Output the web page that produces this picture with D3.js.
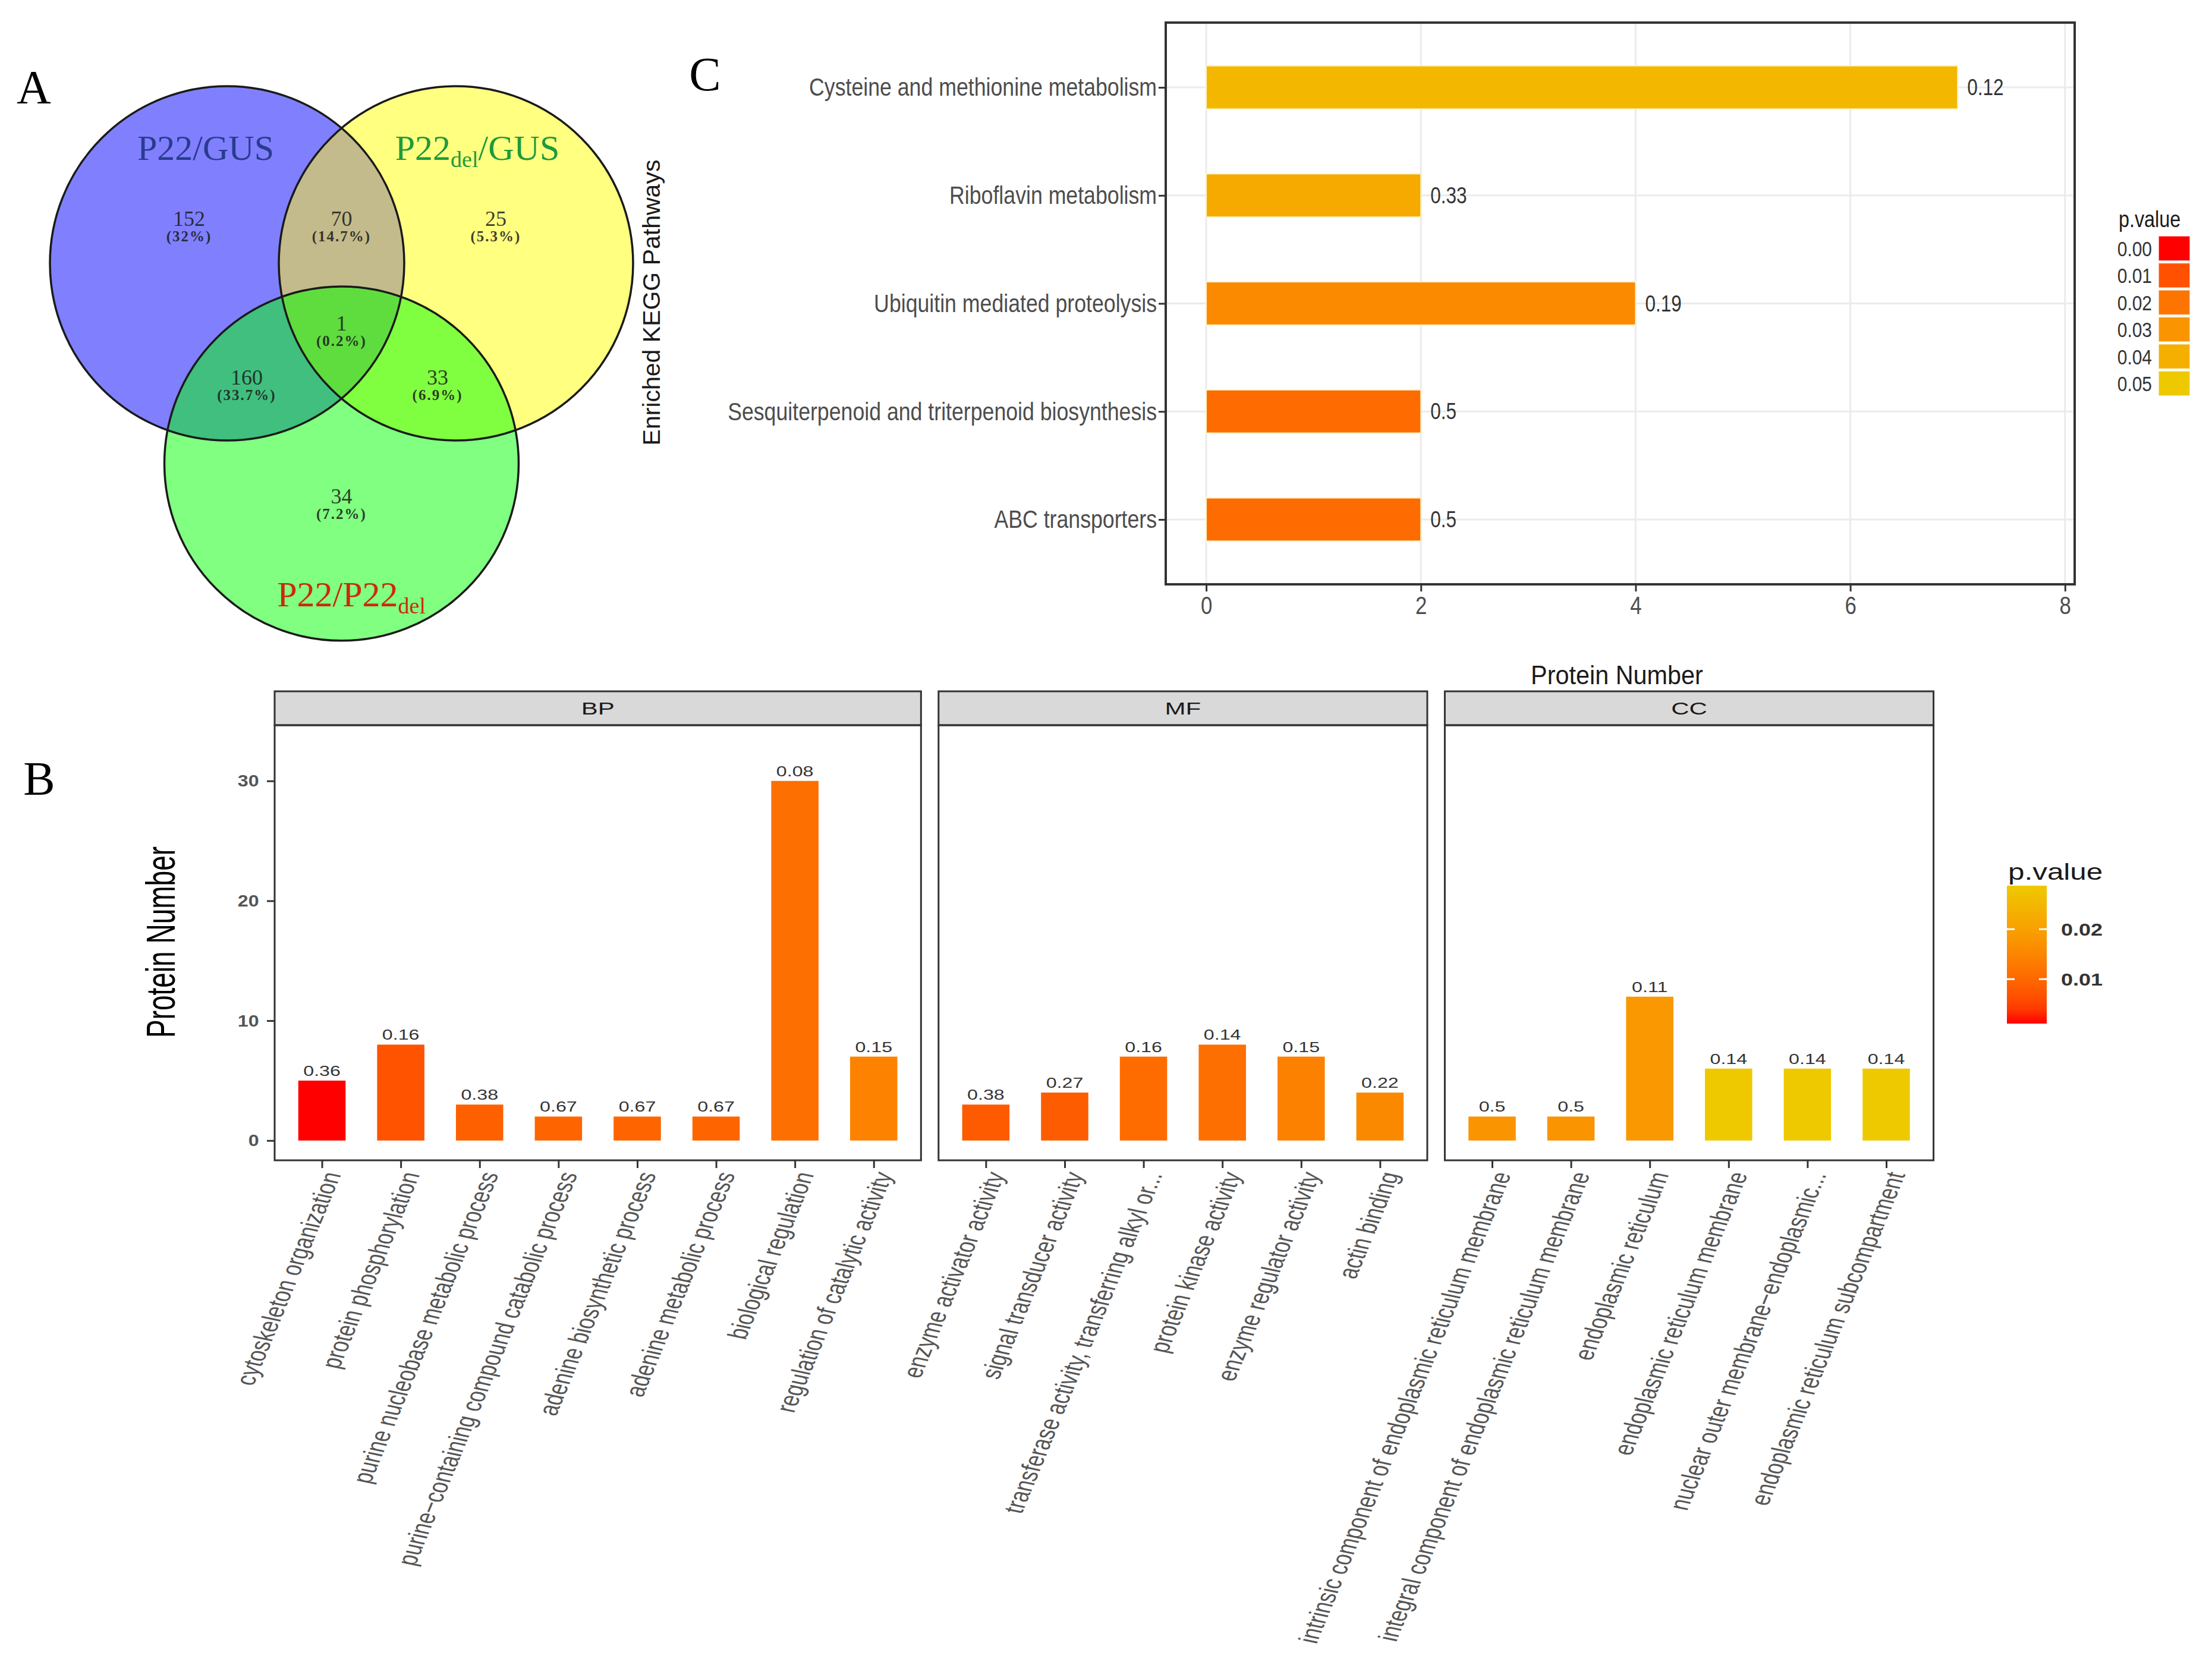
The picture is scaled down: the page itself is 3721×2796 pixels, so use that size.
<!DOCTYPE html>
<html>
<head>
<meta charset="utf-8">
<script src="https://cdn.jsdelivr.net/npm/d3@7"></script>
<style>
  body { margin: 0; background: #fff; }
  svg { display: block; font-family: "Liberation Sans", Arial, sans-serif; }
</style>
</head>
<body>
<div id="chart"></div>
<script>
// ---- data: Venn (A)
var vennSets = ["P22/GUS", "P22_del/GUS", "P22/P22_del"];
var vennCounts = [152, 70, 25, 1, 160, 33, 34]; // A only, A&B, B only, all, A&C, B&C, C only

// ---- data: KEGG (C)
var keggPathways = ["Cysteine and methionine metabolism", "Riboflavin metabolism",
  "Ubiquitin mediated proteolysis", "Sesquiterpenoid and triterpenoid biosynthesis", "ABC transporters"];
var keggCounts = [7, 2, 4, 2, 2];
var keggPValues = [0.043, 0.038, 0.0265, 0.017, 0.017];
var keggLabels = ["0.12", "0.33", "0.19", "0.5", "0.5"];
var keggTicks = [0, 2, 4, 6, 8];
var keggLegendLevels = [0.00, 0.01, 0.02, 0.03, 0.04, 0.05];

// ---- data: GO (B)
var goFacets = ["BP", "MF", "CC"];
var bpTerms = ["cytoskeleton organization", "protein phosphorylation", "purine nucleobase metabolic process",
  "purine\u2212containing compound catabolic process", "adenine biosynthetic process", "adenine metabolic process",
  "biological regulation", "regulation of catalytic activity"];
var bpCounts = [5, 8, 3, 2, 2, 2, 30, 7];
var bpPValues = [0.0011, 0.0069, 0.0088, 0.0095, 0.0095, 0.0095, 0.0110, 0.0143];
var bpLabels = ["0.36", "0.16", "0.38", "0.67", "0.67", "0.67", "0.08", "0.15"];
var mfTerms = ["enzyme activator activity", "signal transducer activity", "transferase activity, transferring alkyl or...",
  "protein kinase activity", "enzyme regulator activity", "actin binding"];
var mfCounts = [3, 4, 7, 8, 7, 4];
var mfPValues = [0.0079, 0.0081, 0.0105, 0.0110, 0.0141, 0.0157];
var mfLabels = ["0.38", "0.27", "0.16", "0.14", "0.15", "0.22"];
var ccTerms = ["intrinsic component of endoplasmic reticulum membrane", "integral component of endoplasmic reticulum membrane",
  "endoplasmic reticulum", "endoplasmic reticulum membrane", "nuclear outer membrane\u2212endoplasmic...",
  "endoplasmic reticulum subcompartment"];
var ccCounts = [2, 2, 12, 6, 6, 6];
var ccPValues = [0.0177, 0.0177, 0.0185, 0.0287, 0.0287, 0.0287];
var ccLabels = ["0.5", "0.5", "0.11", "0.14", "0.14", "0.14"];
var goTicks = [0, 10, 20, 30];
var goLegendTicks = [0.01, 0.02];

var W = 3721, H = 2796;
var svg = d3.select("#chart").append("svg").attr("width", W).attr("height", H);
var defs = svg.append("defs");

function sText(g, x, y, str, o) {
  var tr = "translate(" + x + "," + y + ") scale(" + (o.sx || 1) + ",1)" + (o.rot ? " rotate(" + o.rot + ")" : "");
  var t = g.append("text").attr("transform", tr)
    .attr("text-anchor", o.anchor || "start")
    .attr("font-size", o.size).attr("fill", o.fill || "#333").text(str);
  if (o.weight) t.attr("font-weight", o.weight);
  if (o.family) t.attr("font-family", o.family);
  if (o.db) t.attr("dominant-baseline", o.db);
  return t;
}

// panel letters
var serif = "'Liberation Serif', 'Times New Roman', serif";
[["A", 57, 174], ["B", 66, 1337], ["C", 1186, 152]].forEach(function (d) {
  sText(svg, d[1], d[2], d[0], {size: 80, anchor: "middle", fill: "#000", family: serif});
});

// ================= A: Venn =================
var vx = d3.scaleLinear().domain([0, 1]).range([574.5, 767]);
var vy = d3.scaleLinear().domain([0, 1]).range([443, 635.5]);
var unit = vx(1) - vx(0);
var vennCenters = [[-1, 0], [1, 0], [0, 1.75]];
var vennR = 1.548 * unit;
var vennFill = ["#8080ff", "#ffff80", "#80ff80"];
var vennA = svg.append("g");

vennCenters.forEach(function (c, i) {
  defs.append("clipPath").attr("id", "vclip" + i)
    .append("circle").attr("cx", vx(c[0])).attr("cy", vy(c[1])).attr("r", vennR);
});
function vcircle(g, i) {
  return g.append("circle").attr("cx", vx(vennCenters[i][0])).attr("cy", vy(vennCenters[i][1])).attr("r", vennR);
}
vennCenters.forEach(function (c, i) { vcircle(vennA, i).attr("fill", vennFill[i]); });
vcircle(vennA.append("g").attr("clip-path", "url(#vclip0)"), 1).attr("fill", "#c3bb8b");
vcircle(vennA.append("g").attr("clip-path", "url(#vclip0)"), 2).attr("fill", "#40bf7f");
vcircle(vennA.append("g").attr("clip-path", "url(#vclip1)"), 2).attr("fill", "#80ff40");
vcircle(vennA.append("g").attr("clip-path", "url(#vclip0)").append("g").attr("clip-path", "url(#vclip1)"), 2)
  .attr("fill", "#5fdd3f");
vennCenters.forEach(function (c, i) {
  vcircle(vennA, i).attr("fill", "none").attr("stroke", "#1a1a1a").attr("stroke-width", 3.5);
});

var vennTotal = d3.sum(vennCounts);
var vennLabelPos = [[-1.332, -0.39], [0, -0.39], [1.348, -0.39], [0, 0.525], [-0.829, 0.997], [0.839, 0.997], [0, 2.036]];
vennCounts.forEach(function (v, i) {
  var x = vx(vennLabelPos[i][0]), y = vy(vennLabelPos[i][1]);
  var p = (v / vennTotal * 100).toFixed(1).replace(/\.0$/, "");
  sText(vennA, x, y + 12, v, {size: 36, anchor: "middle", fill: "#1c1c1c", family: serif}).attr("opacity", 0.85);
  sText(vennA, x, y + 38, "(" + p + "%)", {size: 25, anchor: "middle", fill: "#1c1c1c", family: serif})
    .attr("opacity", 0.85).attr("letter-spacing", 2).attr("font-weight", "bold");
});

var vennNamePos = [[-1.187, -1.008], [1.187, -1.008], [0.086, 2.894]];
var vennNameColor = ["#2a3b8e", "#1e9a3c", "#cc2a0c"];
vennSets.forEach(function (name, i) {
  var t = vennA.append("text").attr("x", vx(vennNamePos[i][0])).attr("y", vy(vennNamePos[i][1]) + 20)
    .attr("text-anchor", "middle").attr("font-family", serif).attr("font-size", 60).attr("fill", vennNameColor[i]);
  name.split(/(_del)/).forEach(function (part) {
    if (part === "_del") {
      t.append("tspan").attr("font-size", 38).attr("dy", 12).text("del");
    } else if (part.length) {
      var s = t.append("tspan").text(part);
      if (t.selectAll("tspan").size() > 1) s.attr("dy", -12);
    }
  });
});

// ================= C: KEGG bars =================
var NX = 0.83;
var kC = svg.append("g");
var cL = 1961, cR = 3490, cT = 38, cB = 983;
var cx = d3.scaleLinear().domain([-0.377, 8.09]).range([cL, cR]);
var cy = d3.scalePoint().domain(keggPathways).range([cT, cB]).padding(0.6);
var keggColor = d3.scaleLinear().domain([0, 0.05]).range(["#ff0000", "#eec900"]).interpolate(d3.interpolateLab);

kC.selectAll(".vg").data(keggTicks).join("line")
  .attr("x1", function (d) { return cx(d); }).attr("x2", function (d) { return cx(d); })
  .attr("y1", cT).attr("y2", cB).attr("stroke", "#ebebeb").attr("stroke-width", 3);
kC.selectAll(".hg").data(keggPathways).join("line")
  .attr("x1", cL).attr("x2", cR)
  .attr("y1", function (d) { return cy(d); }).attr("y2", function (d) { return cy(d); })
  .attr("stroke", "#ebebeb").attr("stroke-width", 3);

var barH = cy.step() * 0.4;
kC.selectAll(".kbar").data(keggPathways).join("rect")
  .attr("x", cx(0)).attr("y", function (d) { return cy(d) - barH / 2; })
  .attr("width", function (d, i) { return cx(keggCounts[i]) - cx(0); }).attr("height", barH)
  .attr("fill", function (d, i) { return keggColor(keggPValues[i]); })
  .attr("stroke", "#fff3c0").attr("stroke-width", 2);
keggPathways.forEach(function (d, i) {
  sText(kC, cx(keggCounts[i]) + 16, cy(d) + 13, keggLabels[i], {size: 38, sx: NX, fill: "#333"});
});
kC.append("rect").attr("x", cL).attr("y", cT).attr("width", cR - cL).attr("height", cB - cT)
  .attr("fill", "none").attr("stroke", "#333").attr("stroke-width", 4);

var cxAxis = kC.append("g").attr("transform", "translate(0," + cB + ")")
  .call(d3.axisBottom(cx).tickValues(keggTicks).tickSize(12).tickPadding(8));
var cyAxis = kC.append("g").attr("transform", "translate(" + cL + ",0)")
  .call(d3.axisLeft(cy).tickSize(12).tickPadding(6));
[cxAxis, cyAxis].forEach(function (a) {
  a.select(".domain").remove();
  a.selectAll("line").attr("stroke", "#333").attr("stroke-width", 3);
  a.selectAll("text").attr("fill", "#4d4d4d").attr("font-family", null)
    .attr("transform", "scale(" + NX + ",1)");
});
cxAxis.selectAll("text").attr("font-size", 42);
cyAxis.selectAll("text").attr("font-size", 43);

sText(svg, 1096, 509, "Enriched KEGG Pathways", {size: 41, anchor: "middle", rot: -90, fill: "#1a1a1a", db: "central"});
sText(svg, 2720, 1151, "Protein Number", {size: 45, sx: 0.92, anchor: "middle", fill: "#1a1a1a"});

// discrete legend
sText(kC, 3564, 382, "p.value", {size: 38, sx: 0.85, fill: "#1a1a1a"});
var legY = d3.scaleBand().domain(keggLegendLevels).range([397, 666]).paddingInner(0.08);
kC.selectAll(".lg").data(keggLegendLevels).join("rect")
  .attr("x", 3631).attr("y", function (d) { return legY(d); })
  .attr("width", 53).attr("height", legY.bandwidth())
  .attr("fill", function (d) { return keggColor(d); })
  .attr("stroke", "#ffffff").attr("stroke-opacity", 0.6).attr("stroke-width", 2);
keggLegendLevels.forEach(function (d) {
  sText(kC, 3620, legY(d) + legY.bandwidth() / 2 + 13, d3.format(".2f")(d),
    {size: 36, sx: NX, anchor: "end", fill: "#333"});
});

// ================= B: GO facets =================
var SX = 1.4;
var gB = svg.append("g");
var bT = 1220, bB = 1952, stripT = 1163;
var goY = d3.scaleLinear().domain([-1.65, 34.65]).range([bB, bT]);
var goData = [
  {terms: bpTerms, counts: bpCounts, p: bpPValues, labels: bpLabels},
  {terms: mfTerms, counts: mfCounts, p: mfPValues, labels: mfLabels},
  {terms: ccTerms, counts: ccCounts, p: ccPValues, labels: ccLabels}
];
var allP = bpPValues.concat(mfPValues, ccPValues);
var goColor = d3.scaleLinear().domain(d3.extent(allP)).range(["#ff0000", "#eec900"]).interpolate(d3.interpolateLab);

var step = 132.6, gap = 29.5, px = 462;
goData.forEach(function (f, k) {
  var w = (f.terms.length + 0.2) * step;
  var x0 = px, x1 = px + w;
  px = x1 + gap;
  var xs = d3.scalePoint().domain(f.terms).range([x0, x1]).padding(0.6);
  var bw = xs.step() * 0.6;
  var g = gB.append("g");

  g.append("rect").attr("x", x0).attr("y", stripT).attr("width", w).attr("height", bT - stripT)
    .attr("fill", "#d9d9d9").attr("stroke", "#333").attr("stroke-width", 3);
  sText(g, (x0 + x1) / 2, stripT + 39, goFacets[k], {size: 30, sx: SX, anchor: "middle", fill: "#1a1a1a"});

  g.selectAll(".gbar").data(f.terms).join("rect")
    .attr("x", function (d) { return xs(d) - bw / 2; })
    .attr("y", function (d, i) { return goY(f.counts[i]); })
    .attr("width", bw)
    .attr("height", function (d, i) { return goY(0) - goY(f.counts[i]); })
    .attr("fill", function (d, i) { return goColor(f.p[i]); });
  f.terms.forEach(function (d, i) {
    sText(g, xs(d), goY(f.counts[i]) - 8, f.labels[i], {size: 23, sx: SX, anchor: "middle", fill: "#333"});
  });

  g.append("rect").attr("x", x0).attr("y", bT).attr("width", w).attr("height", bB - bT)
    .attr("fill", "none").attr("stroke", "#333").attr("stroke-width", 3);

  var ax = g.append("g").attr("transform", "translate(0," + bB + ")")
    .call(d3.axisBottom(xs).tickSize(13));
  ax.select(".domain").remove();
  ax.selectAll("line").attr("stroke", "#333").attr("stroke-width", 3);
  ax.selectAll("text").attr("y", null).attr("dy", "0.72em").attr("font-size", 33)
    .attr("fill", "#555").attr("font-family", null).attr("text-anchor", "end")
    .attr("transform", "translate(0,17) scale(" + SX + ",1) rotate(-73.5)");

  if (k === 0) {
    var ay = g.append("g").attr("transform", "translate(" + x0 + ",0)")
      .call(d3.axisLeft(goY).tickValues(goTicks).tickSize(13).tickPadding(10));
    ay.select(".domain").remove();
    ay.selectAll("line").attr("stroke", "#333").attr("stroke-width", 3);
    ay.selectAll("text").attr("font-size", 28).attr("font-weight", "bold").attr("fill", "#555")
      .attr("font-family", null).attr("transform", "scale(1.15,1)");
  }
});

sText(gB, 270, 1585, "Protein Number", {size: 46, sx: 1.5, rot: -90, anchor: "middle", fill: "#000", db: "central"});

// colourbar legend
sText(gB, 3378, 1480, "p.value", {size: 38, sx: 1.3, fill: "#1a1a1a"});
var cbY = d3.scaleLinear().domain(d3.extent(allP)).range([1722, 1490]);
var grad = defs.append("linearGradient").attr("id", "gobar").attr("x1", 0).attr("x2", 0).attr("y1", 1).attr("y2", 0);
d3.range(0, 1.0001, 0.1).forEach(function (t) {
  grad.append("stop").attr("offset", t)
    .attr("stop-color", goColor(cbY.domain()[0] + t * (cbY.domain()[1] - cbY.domain()[0])));
});
gB.append("rect").attr("x", 3376).attr("y", 1490).attr("width", 67).attr("height", 232).attr("fill", "url(#gobar)");
goLegendTicks.forEach(function (v) {
  var y = cbY(v);
  gB.append("line").attr("x1", 3376).attr("x2", 3389).attr("y1", y).attr("y2", y).attr("stroke", "#fff").attr("stroke-width", 3);
  gB.append("line").attr("x1", 3430).attr("x2", 3443).attr("y1", y).attr("y2", y).attr("stroke", "#fff").attr("stroke-width", 3);
  sText(gB, 3467, y + 11, d3.format(".2f")(v), {size: 30, sx: 1.2, weight: "bold", fill: "#333"});
});
</script>
</body>
</html>
